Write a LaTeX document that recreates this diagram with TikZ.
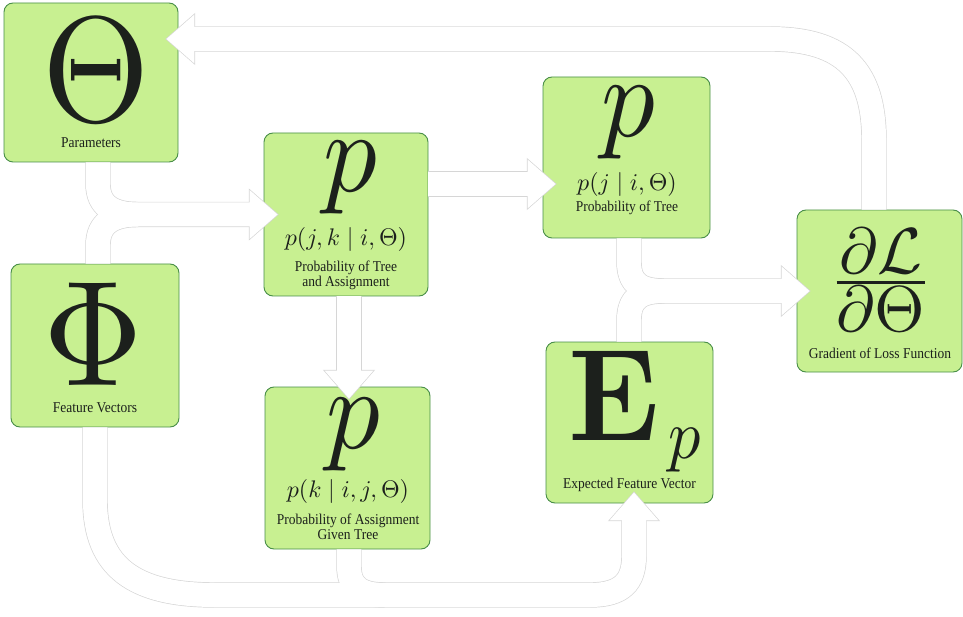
\documentclass[tikz,border=0pt]{standalone}
\usepackage[no-math]{fontspec}
\setmainfont{Liberation Serif}
\usepackage{amsmath}
\definecolor{boxfill}{RGB}{200,240,145}
\definecolor{boxline}{RGB}{72,142,72}
\definecolor{arrline}{RGB}{214,214,214}
\definecolor{txt}{RGB}{28,32,28}
\newcommand\hs[1]{\scalebox{0.9}[1]{#1}}
\tikzset{
  box/.style={draw=boxline, line width=0.9pt, fill=boxfill, rounded corners=9pt, inner sep=0pt},
  lbl/.style={inner sep=0pt, anchor=base, text=txt, font=\fontsize{15}{17}\selectfont},
  mathsm/.style={inner sep=0pt, text=txt, font=\fontsize{10}{12}\selectfont},
  big/.style={inner sep=0pt, text=txt, font=\fontsize{10}{12}\selectfont},
  shaftg/.style={draw=arrline, line width=25.4pt},
  shaftw/.style={draw=white, line width=24pt},
  headg/.pic={\filldraw[arrline, line width=1.4pt, line join=miter] (0,0) -- (-28,24.5) -- (-28,-24.5) -- cycle;},
  headw/.pic={\fill[white] (0,0) -- (-28,24.5) -- (-28,-24.5) -- cycle;}
}
\newcommand\allarrows[2]{%
  % gradient -> parameters
  \draw[#1] (a1s) -- (874,140) .. controls (874,72) and (845,39) .. (770,39) -- (190,39);
  \pic[rotate=180] at (h1) {#2};
  % parameters / features -> p(j,k)
  \draw[#1] (a2s) -- (98,184) .. controls (98,206) and (113,214.5) .. (138,214.5) -- (256,214.5);
  \draw[#1] (a2t) -- (98,245) .. controls (98,223) and (113,214.5) .. (138,214.5);
  \pic at (h2) {#2};
  % p(j,k) -> p(j|i)
  \draw[#1] (a3s) -- (534,184);
  \pic at (h3) {#2};
  % p(j,k) -> p(k|i,j)
  \draw[#1] (a4s) -- (349,377);
  \pic[rotate=-90] at (h4) {#2};
  % p(j|i) / E_p -> gradient
  \draw[#1] (a5s) -- (629,262) .. controls (629,284) and (641,291) .. (664,291) -- (788,291);
  \draw[#1] (a5t) -- (629,320) .. controls (629,298) and (641,291) .. (664,291);
  \pic at (h5) {#2};
  % features / p(k) -> E_p
  \draw[#1] (a6s) -- (95,500) .. controls (95,568) and (135,595) .. (215,595) -- (590,595) .. controls (622,595) and (634,582) .. (634,556) -- (634,514);
  \draw[#1] (a6t) -- (349,566) .. controls (349,587) and (360,595) .. (385,595);
  \pic[rotate=90] at (h6) {#2};
}
\begin{document}
\begin{tikzpicture}[x=1pt,y=-1pt]
\useasboundingbox (0,0) rectangle (963,617);
% boxes
\node[box, minimum width=174pt, minimum height=159pt] (theta) at (91,82.5) {};
\node[box, minimum width=168pt, minimum height=163pt] (phi) at (95,345.5) {};
\node[box, minimum width=164pt, minimum height=163pt] (pjk) at (346,214.5) {};
\node[box, minimum width=165pt, minimum height=162pt] (pk) at (347.5,468) {};
\node[box, minimum width=167pt, minimum height=161pt] (pji) at (626.5,157.5) {};
\node[box, minimum width=167pt, minimum height=161pt] (ep) at (629.5,422.5) {};
\node[box, minimum width=165pt, minimum height=162pt] (grad) at (879.5,291) {};
% connector ends
\coordinate (a1s) at ([xshift=-5.5pt]grad.north);
\coordinate (h1) at ([xshift=-12pt,yshift=43.5pt]theta.east);
\coordinate (a2s) at ([xshift=7pt]theta.south);
\coordinate (a2t) at ([xshift=3pt]phi.north);
\coordinate (h2) at ([xshift=14pt]pjk.west);
\coordinate (a3s) at ([yshift=30.5pt]pjk.east);
\coordinate (h3) at ([xshift=13pt,yshift=-26.5pt]pji.west);
\coordinate (a4s) at ([xshift=3pt]pjk.south);
\coordinate (h4) at ([xshift=1.5pt,yshift=-12pt]pk.north);
\coordinate (a5s) at ([xshift=2.5pt]pji.south);
\coordinate (a5t) at ([xshift=-0.5pt]ep.north);
\coordinate (h5) at ([xshift=13pt]grad.west);
\coordinate (a6s) at (phi.south);
\coordinate (a6t) at ([xshift=1.5pt]pk.south);
\coordinate (h6) at ([xshift=4.5pt,yshift=11pt]ep.south);
% connectors: outline layer, then white body
\allarrows{shaftg}{headg}
\allarrows{shaftw}{headw}
% texts
\node[big] (thsym) at (96,70) {\scalebox{13.8}[15]{$\Theta$}};
\node[lbl] (thlbl) at (91,148) {\hs{Parameters}};
\node[big] (phsym) at (93,334.5) {\scalebox{13.8}[15]{$\Phi$}};
\node[lbl] (phlbl) at (95,412) {\hs{Feature Vectors}};
\node[big] (pjksym) at (350,178) {\scalebox{10.7}[11.6]{$p$}};
\node[mathsm] (pjkf) at (346,240) {\scalebox{2.4}{$p(j,k\mid i,\Theta)$}};
\node[lbl] (pjkl1) at (346,272) {\hs{Probability of Tree}};
\node[lbl] (pjkl2) at (346,287) {\hs{and Assignment}};
\node[big] (pksym) at (353,435) {\scalebox{10.7}[11.6]{$p$}};
\node[mathsm] (pkf) at (348,491) {\scalebox{2.4}{$p(k\mid i,j,\Theta)$}};
\node[lbl] (pkl1) at (348,524) {\hs{Probability of Assignment}};
\node[lbl] (pkl2) at (348,539) {\hs{Given Tree}};
\node[big] (pjisym) at (628,123) {\scalebox{10.7}[11.6]{$p$}};
\node[mathsm] (pjif) at (627,185) {\scalebox{2.4}{$p(j\mid i,\Theta)$}};
\node[lbl] (pjil) at (627,212) {\hs{Probability of Tree}};
\node[big, anchor=base west] (epsym) at (568,440) {\scalebox{12.05}[13.1]{$\mathbf{E}$}\kern9pt\raisebox{-18pt}{\scalebox{6.44}[7]{$p$}}};
\node[lbl] (epl) at (629.5,488) {\hs{Expected Feature Vector}};
\node[big] (gsym) at (881,280) {\scalebox{6.5}{$\frac{\textstyle\partial\mathcal{L}}{\textstyle\partial\Theta}$}};
\node[lbl] (gl) at (880,358) {\hs{Gradient of Loss Function}};
\end{tikzpicture}
\end{document}
